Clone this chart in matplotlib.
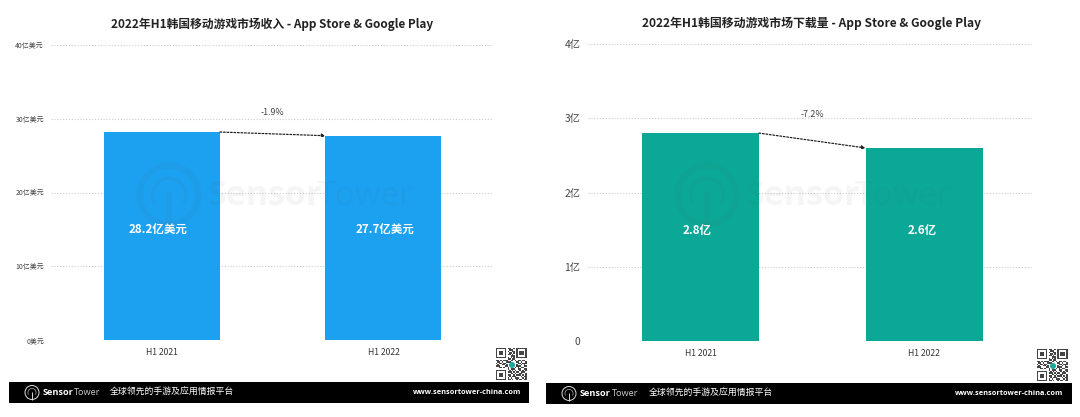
import matplotlib
matplotlib.use("Agg")
import matplotlib.pyplot as plt
from matplotlib.patches import Circle, Rectangle, Wedge

plt.rcParams['font.family'] = ['Noto Sans CJK SC', 'DejaVu Sans']

W, H = 1080, 417

periods = ["H1 2021", "H1 2022"]
revenue = [28.2, 27.7]
downloads = [2.8, 2.6]
revenue_labels = ["28.2亿美元", "27.7亿美元"]
download_labels = ["2.8亿", "2.6亿"]
revenue_ticks = [0, 10, 20, 30, 40]
revenue_ticklabels = ["0美元", "10亿美元", "20亿美元", "30亿美元", "40亿美元"]
download_ticks = [0, 1, 2, 3, 4]
download_ticklabels = ["0", "1亿", "2亿", "3亿", "4亿"]
revenue_title = "2022年H1韩国移动游戏市场收入 - App Store & Google Play"
download_title = "2022年H1韩国移动游戏市场下载量 - App Store & Google Play"
revenue_change = "-1.9%"
download_change = "-7.2%"
slogan = "全球领先的手游及应用情报平台"
website = "www.sensortower-china.com"

QR_ROWS = [
    "1111111011001011111110",
    "1000001001110010000010",
    "1011101010011010111010",
    "1011101001101010111010",
    "1011101011010010111010",
    "1000001000111010000010",
    "1111111010101011111110",
    "0000000011011000000000",
    "1101011100110101101100",
    "0110100111000011010010",
    "1011011000000001101110",
    "0100110100000010010100",
    "1110001100000011100110",
    "0011010010000101011000",
    "0000000010111001100110",
    "1111111001010100101010",
    "1000001011101011011100",
    "1011101000110100110010",
    "1011101011001011101010",
    "1011101001011100010110",
    "1000001010100111001010",
    "1111111011010010110110",
]

fig = plt.figure(figsize=(W / 100, H / 100), dpi=100, facecolor="white")


def pixel_axes(x0, x1, y_top, y_bottom, zorder=1):
    return fig.add_axes([x0 / W, 1 - y_bottom / H, (x1 - x0) / W, (y_bottom - y_top) / H],
                        zorder=zorder)


def bar_panel(box, centers_px, bar_px, values, labels, label_nudge_px, ticks, ticklabels, ymax,
              color, title, title_xy, title_size, change, change_frac, tick_size, tick_pad):
    x0, x1, y_top, y_bottom = box
    ax = pixel_axes(x0, x1, y_top, y_bottom)
    step = centers_px[1] - centers_px[0]
    ax.set_xlim((x0 - centers_px[0]) / step, (x1 - centers_px[0]) / step)
    ax.set_ylim(0, ymax)
    width = bar_px / step
    ax.bar([0, 1], values, width=width, color=color, zorder=2)
    ax.set_yticks(ticks, ticklabels, fontsize=tick_size, color="#444444")
    ax.set_xticks([0, 1], periods, fontsize=6.2, color="#333333")
    ax.tick_params(axis="y", length=0, pad=tick_pad)
    ax.tick_params(axis="x", length=0, pad=6)
    ax.yaxis.grid(True, color="#cccccc", linestyle=(0, (1, 1.6)), linewidth=0.8)
    ax.set_axisbelow(True)
    for side in ax.spines.values():
        side.set_visible(False)
    ax.patch.set_alpha(0)
    for i, label in enumerate(labels):
        ax.text(i + label_nudge_px[i] / step, ymax * 0.373, label, color="white", fontsize=8.3,
                fontweight="bold", ha="center", va="center", zorder=4)
    ax.annotate("", xy=(1 - width / 2, values[1]), xytext=(width / 2, values[0]),
                arrowprops=dict(arrowstyle="-|>", linestyle=(0, (1.4, 1.4)), color="#222222",
                                linewidth=0.9, mutation_scale=5, shrinkA=0, shrinkB=0),
                zorder=5)
    ax.text(0.5, change_frac, change, color="#444444", fontsize=6.4, ha="center", va="center",
            transform=ax.get_xaxis_transform())
    fig.text(title_xy[0] / W, 1 - title_xy[1] / H, title, fontsize=title_size, fontweight="bold",
             color="#222222", ha="center", va="center")
    return ax


bar_panel((51, 492, 45, 340), (162, 383.5), 116, revenue, revenue_labels, (-3.5, 1.5),
          revenue_ticks, revenue_ticklabels, 40, "#1ca1f1", revenue_title, (272, 24), 8.47,
          revenue_change, 0.7695, 5, 5)
bar_panel((588, 1033, 44, 341), (700.5, 924), 117, downloads, download_labels, (-3, -2),
          download_ticks, download_ticklabels, 4, "#0ba898", download_title, (811.5, 23), 8.6,
          download_change, 0.764, 7.4, 5.5)

# Page furniture (watermark, footer banner, QR code) is laid out in pixel space.
overlay = fig.add_axes([0, 0, 1, 1], zorder=3)
overlay.set_xlim(0, W)
overlay.set_ylim(H, 0)
overlay.axis("off")


def signal_logo(cx, cy, r, color, alpha, lw):
    overlay.add_patch(Circle((cx, cy), r, fill=False, ec=color, lw=lw, alpha=alpha))
    overlay.add_patch(Wedge((cx, cy), r * 0.62, 150, 30, width=r * 0.02 + lw * 0.6, fc=color,
                            alpha=alpha, ec="none"))
    overlay.plot([cx, cx], [cy - r * 0.1, cy + r], color=color, lw=lw, alpha=alpha,
                 solid_capstyle="butt")


for dx in (0, 538):
    signal_logo(169 + dx, 195, 29.5, "#555555", 0.06, 4.5)
    overlay.text(207 + dx, 196, "Sensor", fontsize=24.5, fontweight="bold", color="#555555",
                 alpha=0.06, ha="left", va="center", family="Open Sans")
    overlay.text(317 + dx, 196, "Tower", fontsize=24, color="#555555", alpha=0.06,
                 ha="left", va="center", family="Open Sans")

# left, right, top, bottom, logo centre, sensor, tower, slogan x, url right, QR x, QR y
footers = [(9, 529, 382, 403, 32, 43, 74, 110, 521, 496, 348),
           (546, 1072, 383, 404, 569, 580, 612, 649, 1063, 1037, 349)]
for left, right, top, bottom, logo_x, sensor_x, tower_x, slogan_x, url_x, qr_x, qr_y in footers:
    overlay.add_patch(Rectangle((left, top), right - left, bottom - top, fc="black", ec="none"))
    mid = (top + bottom) / 2
    signal_logo(logo_x, mid, 7, "#dddddd", 1, 0.7)
    overlay.text(sensor_x, mid, "Sensor", color="white", fontsize=6.6, fontweight="bold",
                 va="center", ha="left", family="Open Sans")
    overlay.text(tower_x, mid, "Tower", color="#cccccc", fontsize=6.6, va="center",
                 ha="left", family="Open Sans")
    overlay.text(slogan_x, mid, slogan, color="white", fontsize=6.4, va="center", ha="left")
    overlay.text(url_x, mid, website, color="white", fontsize=5.35, fontweight="bold",
                 va="center", ha="right", family="Open Sans")

    cell = 32 / len(QR_ROWS)
    for r, row in enumerate(QR_ROWS):
        for c, bit in enumerate(row):
            if bit == "1":
                overlay.add_patch(Rectangle((qr_x + c * cell, qr_y + r * cell), cell, cell,
                                            fc="#444444", ec="none"))
    overlay.add_patch(Circle((qr_x + 16, qr_y + 17), 3, fc="#1aa79c", ec="none"))

fig.savefig("out.png", dpi=100)
